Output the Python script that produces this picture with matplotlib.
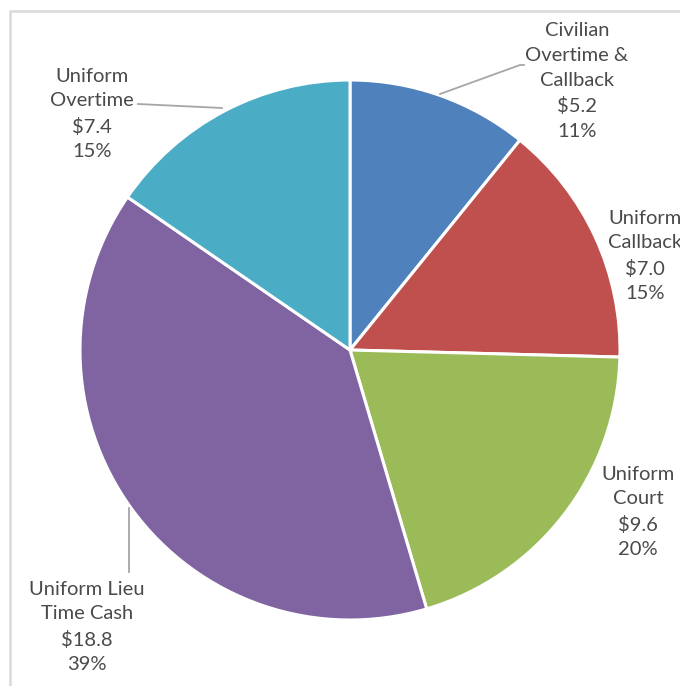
import matplotlib
matplotlib.use("Agg")
import matplotlib.pyplot as plt
from matplotlib.patches import Rectangle

categories = ["Civilian\nOvertime &\nCallback", "Uniform\nCallback", "Uniform\nCourt",
              "Uniform Lieu\nTime Cash", "Uniform\nOvertime"]
values = [5.2, 7.0, 9.6, 18.8, 7.4]
colors = ["#4F81BD", "#C0504D", "#9BBB59", "#8064A2", "#4BACC6"]

W, H = 680, 686
fig = plt.figure(figsize=(6.8, 6.86), dpi=100)
ax = fig.add_axes([0, 0, 1, 1])

total = sum(values)
ax.pie(values, colors=colors, startangle=90, counterclock=False,
       center=(350, H - 350), radius=270,
       wedgeprops=dict(edgecolor="white", linewidth=2.2), frame=True)
ax.set_xlim(0, W)
ax.set_ylim(0, H)
ax.set_aspect("equal")
ax.axis("off")

# frame border
ax.add_patch(Rectangle((9.5, -20), W + 40, H - 10.5 + 20, fill=False,
                       edgecolor="#D9D9D9", linewidth=1.8, clip_on=False))

# label positions (pixel coords, centre of text block)
label_pos = [(577, 81), (645, 256), (638, 512), (87, 627), (92, 114)]
text_color = "#4A4A4A"
for name, v, (px, py) in zip(categories, values, label_pos):
    pct = round(v / total * 100)
    txt = f"{name}\n\\${v:.1f}\n{pct}%"
    ax.text(px, H - py, txt, ha="center", va="center", fontsize=14.5,
            family="Lato", color=text_color, linespacing=1.55)

# leader lines
lc = "#A6A6A6"
ax.plot([440, 520, 524], [H - 94, H - 65, H - 65], color=lc, lw=1.3)
ax.plot([138, 222], [H - 104, H - 108], color=lc, lw=1.3)
ax.plot([129, 129], [H - 508, H - 572], color=lc, lw=1.3)

fig.savefig("out.png", dpi=100, facecolor="white")
